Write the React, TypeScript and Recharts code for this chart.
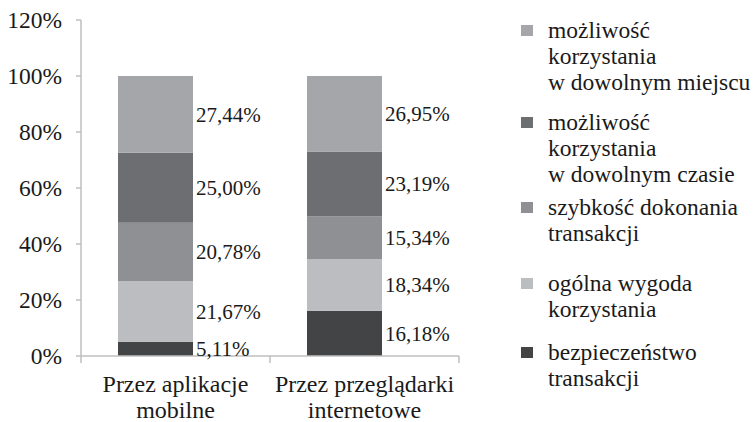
import React from "react";
import { BarChart, Bar, XAxis, YAxis, Legend, LabelList } from "recharts";

const categories = ["Przez aplikacje\nmobilne", "Przez przeglądarki\ninternetowe"];
const bezpieczenstwo = [5.11, 16.18];
const wygoda = [21.67, 18.34];
const szybkosc = [20.78, 15.34];
const czas = [25.0, 23.19];
const miejsce = [27.44, 26.95];
const spacer = [0, 0];
const yTicks = [0, 20, 40, 60, 80, 100, 120];

const seriesNames = [
  "bezpieczeństwo\ntransakcji",
  "ogólna wygoda\nkorzystania",
  "szybkość dokonania\ntransakcji",
  "możliwość\nkorzystania\nw dowolnym czasie",
  "możliwość\nkorzystania\nw dowolnym miejscu",
];
const seriesKeys = ["bezp", "wyg", "szyb", "czas", "miej"];
const seriesValues = [bezpieczenstwo, wygoda, szybkosc, czas, miejsce];
const seriesColors = ["#434446", "#bcbdc0", "#8f9093", "#6d6e72", "#a5a6a9"];

const data = categories.map((c, i) => {
  const row: any = { name: c, pad: spacer[i] };
  seriesKeys.forEach((k, j) => (row[k] = seriesValues[j][i]));
  return row;
});

const FONT = "Liberation Serif";
const TEXT = "#1a1a1a";
const AXIS = "#bfbfbf";

const fmt = (v: any) => Number(v).toFixed(2).replace(".", ",") + "%";

const CatTick = (props: any) => {
  const { x, y, payload, index } = props;
  const off = payload?.offset ?? 94.5;
  const lines = String(payload.value).split("\n");
  return (
    <g>
      {index === 0 && <line x1={x - off} x2={x - off} y1={y} y2={y + 7} stroke={AXIS} strokeWidth={1.5} />}
      <line x1={x + off} x2={x + off} y1={y} y2={y + 7} stroke={AXIS} strokeWidth={1.5} />
      <text textAnchor="middle" fill={TEXT} fontFamily={FONT} fontSize={24}>
        {lines.map((l, i) => (
          <tspan key={i} x={x} y={y + 36 + i * 26}>
            {l}
          </tspan>
        ))}
      </text>
    </g>
  );
};

const legendGaps = [0, 14, 7, 24, 17];

const LegendContent = () => {
  const order = [4, 3, 2, 1, 0];
  return (
    <div style={{ fontFamily: FONT, fontSize: 23.5, color: TEXT, lineHeight: "26px" }}>
      {order.map((si, i) => (
        <div key={si} style={{ display: "flex", alignItems: "flex-start", marginTop: legendGaps[i] }}>
          <div
            style={{
              width: 12,
              height: 11,
              background: seriesColors[si],
              marginTop: 8,
              marginRight: 15,
              flexShrink: 0,
            }}
          />
          <div style={{ whiteSpace: "pre-line", textAlign: "left" }}>{seriesNames[si]}</div>
        </div>
      ))}
    </div>
  );
};

export default function App() {
  return (
    <div style={{ position: "absolute", left: 0, top: 0, width: 753, height: 422, background: "#fff" }}>
      <BarChart
        width={753}
        height={422}
        data={data}
        margin={{ top: 20, right: 294, bottom: 6, left: 0 }}
        barGap={0}
      >
        <XAxis
          dataKey="name"
          axisLine={{ stroke: AXIS, strokeWidth: 1.5 }}
          tickLine={false}
          tickSize={0}
          tickMargin={0}
          height={60}
          interval={0}
          tick={<CatTick />}
        />
        <YAxis
          domain={[0, 120]}
          ticks={yTicks}
          width={81}
          tickSize={5}
          tickMargin={14}
          axisLine={{ stroke: AXIS, strokeWidth: 1.5 }}
          tickLine={{ stroke: AXIS, strokeWidth: 1.5 }}
          tickFormatter={(v: number) => `${v}%`}
          tick={{ fill: TEXT, fontFamily: FONT, fontSize: 23.5 }}
        />
        <Legend
          layout="vertical"
          align="center"
          verticalAlign="middle"
          content={<LegendContent />}
          wrapperStyle={{ left: 521, top: 17, width: 232 }}
        />
        {seriesKeys.map((k, j) => (
          <Bar
            key={k}
            dataKey={k}
            name={seriesNames[j]}
            stackId="a"
            fill={seriesColors[j]}
            barSize={75}
            isAnimationActive={false}
          >
            <LabelList
              dataKey={k}
              position="right"
              offset={3}
              formatter={fmt}
              fill={TEXT}
              fontFamily={FONT}
              fontSize={21}
            />
          </Bar>
        ))}
        <Bar dataKey="pad" stackId="b" barSize={40} fill="transparent" legendType="none" isAnimationActive={false} />
      </BarChart>
    </div>
  );
}
